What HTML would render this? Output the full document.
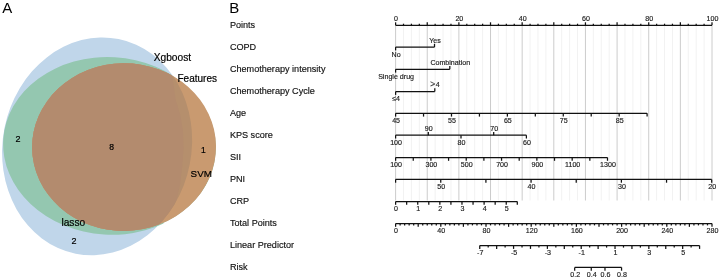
<!DOCTYPE html><html><head><meta charset="utf-8"><style>html,body{margin:0;padding:0;background:#fff;width:720px;height:280px;overflow:hidden}svg{display:block;will-change:transform}text{font-family:"Liberation Sans",sans-serif}</style></head><body>
<svg width="720" height="280" viewBox="0 0 720 280">
<defs><clipPath id="u"><ellipse cx="97.1" cy="146.35" rx="109.45" ry="94.4" transform="rotate(101.3 97.1 146.35)" /></clipPath></defs>
<ellipse cx="97.1" cy="146.35" rx="109.45" ry="94.4" transform="rotate(101.3 97.1 146.35)" fill="#C0D6EA"/>
<defs><clipPath id="gc"><polygon points="0,0 172,0 172,90 163,232 163,280 0,280"/><ellipse cx="124.05" cy="147.08" rx="91.95" ry="83.84" transform="rotate(179.3 124.05 147.08)" /></clipPath></defs>
<g clip-path="url(#gc)"><ellipse cx="109.57" cy="145.97" rx="106.5" ry="88.78" transform="rotate(3.5 109.57 145.97)" fill="#94C7B0"/></g>
<ellipse cx="124.05" cy="147.08" rx="91.95" ry="83.84" transform="rotate(179.3 124.05 147.08)" fill="#C99A70"/>
<defs><clipPath id="inr"><polygon points="0,0 168,0 170,70 172.5,78 175.8,100 180.3,115 183.0,131 183.6,148 182.4,165 180,185 176.5,200 150,280 0,280"/></clipPath></defs>
<g clip-path="url(#u)"><ellipse cx="124.05" cy="147.08" rx="91.95" ry="83.84" transform="rotate(179.3 124.05 147.08)" fill="#B58F6D"/><g clip-path="url(#inr)"><ellipse cx="124.05" cy="147.08" rx="91.95" ry="83.84" transform="rotate(179.3 124.05 147.08)" fill="#B38B6E"/></g></g>
<text x="2.3" y="12.8" font-size="15" fill="#000">A</text>
<text x="153.7" y="60.5" font-size="10.2" text-anchor="start" fill="#000" stroke="#000" stroke-width="0.2">Xgboost</text>
<text x="177.5" y="81.6" font-size="10.0" text-anchor="start" fill="#000" stroke="#000" stroke-width="0.2">Features</text>
<text x="190.6" y="177.0" font-size="9.8" text-anchor="start" fill="#000" stroke="#000" stroke-width="0.2">SVM</text>
<text x="61.4" y="225.7" font-size="10.2" text-anchor="start" fill="#000" stroke="#000" stroke-width="0.2">lasso</text>
<text x="17.9" y="141.6" font-size="9" text-anchor="middle" fill="#000" stroke="#000" stroke-width="0.2">2</text>
<text x="111.6" y="149.9" font-size="8.6" text-anchor="middle" fill="#000" stroke="#000" stroke-width="0.2">8</text>
<text x="203.3" y="152.6" font-size="8.5" text-anchor="middle" fill="#000" stroke="#000" stroke-width="0.2">1</text>
<text x="73.9" y="244.4" font-size="9" text-anchor="middle" fill="#000" stroke="#000" stroke-width="0.2">2</text>
<text x="229.3" y="12.8" font-size="15" fill="#000">B</text>
<text x="229.9" y="27.7" font-size="9.1" text-anchor="start" fill="#111" stroke="#111" stroke-width="0.15">Points</text>
<text x="229.9" y="49.75" font-size="9.1" text-anchor="start" fill="#111" stroke="#111" stroke-width="0.15">COPD</text>
<text x="229.9" y="71.8" font-size="9.1" text-anchor="start" fill="#111" stroke="#111" stroke-width="0.15">Chemotherapy intensity</text>
<text x="229.9" y="93.85000000000001" font-size="9.1" text-anchor="start" fill="#111" stroke="#111" stroke-width="0.15">Chemotherapy Cycle</text>
<text x="229.9" y="115.9" font-size="9.1" text-anchor="start" fill="#111" stroke="#111" stroke-width="0.15">Age</text>
<text x="229.9" y="137.95" font-size="9.1" text-anchor="start" fill="#111" stroke="#111" stroke-width="0.15">KPS score</text>
<text x="229.9" y="160.0" font-size="9.1" text-anchor="start" fill="#111" stroke="#111" stroke-width="0.15">SII</text>
<text x="229.9" y="182.04999999999998" font-size="9.1" text-anchor="start" fill="#111" stroke="#111" stroke-width="0.15">PNI</text>
<text x="229.9" y="204.1" font-size="9.1" text-anchor="start" fill="#111" stroke="#111" stroke-width="0.15">CRP</text>
<text x="229.9" y="226.15" font-size="9.1" text-anchor="start" fill="#111" stroke="#111" stroke-width="0.15">Total Points</text>
<text x="229.9" y="248.2" font-size="9.1" text-anchor="start" fill="#111" stroke="#111" stroke-width="0.15">Linear Predictor</text>
<text x="229.9" y="270.25" font-size="9.1" text-anchor="start" fill="#111" stroke="#111" stroke-width="0.15">Risk</text>
<line x1="395.60" y1="25.5" x2="395.60" y2="200.5" stroke="#cccccc" stroke-width="1"/>
<line x1="403.51" y1="25.5" x2="403.51" y2="200.5" stroke="#f2f2f2" stroke-width="1"/>
<line x1="411.42" y1="25.5" x2="411.42" y2="200.5" stroke="#f2f2f2" stroke-width="1"/>
<line x1="419.33" y1="25.5" x2="419.33" y2="200.5" stroke="#f2f2f2" stroke-width="1"/>
<line x1="427.24" y1="25.5" x2="427.24" y2="200.5" stroke="#cccccc" stroke-width="1"/>
<line x1="435.15" y1="25.5" x2="435.15" y2="200.5" stroke="#f2f2f2" stroke-width="1"/>
<line x1="443.06" y1="25.5" x2="443.06" y2="200.5" stroke="#f2f2f2" stroke-width="1"/>
<line x1="450.97" y1="25.5" x2="450.97" y2="200.5" stroke="#f2f2f2" stroke-width="1"/>
<line x1="458.88" y1="25.5" x2="458.88" y2="200.5" stroke="#cccccc" stroke-width="1"/>
<line x1="466.79" y1="25.5" x2="466.79" y2="200.5" stroke="#f2f2f2" stroke-width="1"/>
<line x1="474.70" y1="25.5" x2="474.70" y2="200.5" stroke="#f2f2f2" stroke-width="1"/>
<line x1="482.61" y1="25.5" x2="482.61" y2="200.5" stroke="#f2f2f2" stroke-width="1"/>
<line x1="490.52" y1="25.5" x2="490.52" y2="200.5" stroke="#cccccc" stroke-width="1"/>
<line x1="498.43" y1="25.5" x2="498.43" y2="200.5" stroke="#f2f2f2" stroke-width="1"/>
<line x1="506.34" y1="25.5" x2="506.34" y2="200.5" stroke="#f2f2f2" stroke-width="1"/>
<line x1="514.25" y1="25.5" x2="514.25" y2="200.5" stroke="#f2f2f2" stroke-width="1"/>
<line x1="522.16" y1="25.5" x2="522.16" y2="200.5" stroke="#cccccc" stroke-width="1"/>
<line x1="530.07" y1="25.5" x2="530.07" y2="200.5" stroke="#f2f2f2" stroke-width="1"/>
<line x1="537.98" y1="25.5" x2="537.98" y2="200.5" stroke="#f2f2f2" stroke-width="1"/>
<line x1="545.89" y1="25.5" x2="545.89" y2="200.5" stroke="#f2f2f2" stroke-width="1"/>
<line x1="553.80" y1="25.5" x2="553.80" y2="200.5" stroke="#cccccc" stroke-width="1"/>
<line x1="561.71" y1="25.5" x2="561.71" y2="200.5" stroke="#f2f2f2" stroke-width="1"/>
<line x1="569.62" y1="25.5" x2="569.62" y2="200.5" stroke="#f2f2f2" stroke-width="1"/>
<line x1="577.53" y1="25.5" x2="577.53" y2="200.5" stroke="#f2f2f2" stroke-width="1"/>
<line x1="585.44" y1="25.5" x2="585.44" y2="200.5" stroke="#cccccc" stroke-width="1"/>
<line x1="593.35" y1="25.5" x2="593.35" y2="200.5" stroke="#f2f2f2" stroke-width="1"/>
<line x1="601.26" y1="25.5" x2="601.26" y2="200.5" stroke="#f2f2f2" stroke-width="1"/>
<line x1="609.17" y1="25.5" x2="609.17" y2="200.5" stroke="#f2f2f2" stroke-width="1"/>
<line x1="617.08" y1="25.5" x2="617.08" y2="200.5" stroke="#cccccc" stroke-width="1"/>
<line x1="624.99" y1="25.5" x2="624.99" y2="200.5" stroke="#f2f2f2" stroke-width="1"/>
<line x1="632.90" y1="25.5" x2="632.90" y2="200.5" stroke="#f2f2f2" stroke-width="1"/>
<line x1="640.81" y1="25.5" x2="640.81" y2="200.5" stroke="#f2f2f2" stroke-width="1"/>
<line x1="648.72" y1="25.5" x2="648.72" y2="200.5" stroke="#cccccc" stroke-width="1"/>
<line x1="656.63" y1="25.5" x2="656.63" y2="200.5" stroke="#f2f2f2" stroke-width="1"/>
<line x1="664.54" y1="25.5" x2="664.54" y2="200.5" stroke="#f2f2f2" stroke-width="1"/>
<line x1="672.45" y1="25.5" x2="672.45" y2="200.5" stroke="#f2f2f2" stroke-width="1"/>
<line x1="680.36" y1="25.5" x2="680.36" y2="200.5" stroke="#cccccc" stroke-width="1"/>
<line x1="688.27" y1="25.5" x2="688.27" y2="200.5" stroke="#f2f2f2" stroke-width="1"/>
<line x1="696.18" y1="25.5" x2="696.18" y2="200.5" stroke="#f2f2f2" stroke-width="1"/>
<line x1="704.09" y1="25.5" x2="704.09" y2="200.5" stroke="#f2f2f2" stroke-width="1"/>
<line x1="712.00" y1="25.5" x2="712.00" y2="200.5" stroke="#cccccc" stroke-width="1"/>
<line x1="395.60" y1="25.3" x2="712.00" y2="25.3" stroke="#111" stroke-width="1.25"/>
<line x1="395.60" y1="25.3" x2="395.60" y2="22.3" stroke="#111" stroke-width="1.25"/>
<line x1="403.51" y1="25.3" x2="403.51" y2="23.7" stroke="#111" stroke-width="1.25"/>
<line x1="411.42" y1="25.3" x2="411.42" y2="23.7" stroke="#111" stroke-width="1.25"/>
<line x1="419.33" y1="25.3" x2="419.33" y2="23.7" stroke="#111" stroke-width="1.25"/>
<line x1="427.24" y1="25.3" x2="427.24" y2="22.3" stroke="#111" stroke-width="1.25"/>
<line x1="435.15" y1="25.3" x2="435.15" y2="23.7" stroke="#111" stroke-width="1.25"/>
<line x1="443.06" y1="25.3" x2="443.06" y2="23.7" stroke="#111" stroke-width="1.25"/>
<line x1="450.97" y1="25.3" x2="450.97" y2="23.7" stroke="#111" stroke-width="1.25"/>
<line x1="458.88" y1="25.3" x2="458.88" y2="22.3" stroke="#111" stroke-width="1.25"/>
<line x1="466.79" y1="25.3" x2="466.79" y2="23.7" stroke="#111" stroke-width="1.25"/>
<line x1="474.70" y1="25.3" x2="474.70" y2="23.7" stroke="#111" stroke-width="1.25"/>
<line x1="482.61" y1="25.3" x2="482.61" y2="23.7" stroke="#111" stroke-width="1.25"/>
<line x1="490.52" y1="25.3" x2="490.52" y2="22.3" stroke="#111" stroke-width="1.25"/>
<line x1="498.43" y1="25.3" x2="498.43" y2="23.7" stroke="#111" stroke-width="1.25"/>
<line x1="506.34" y1="25.3" x2="506.34" y2="23.7" stroke="#111" stroke-width="1.25"/>
<line x1="514.25" y1="25.3" x2="514.25" y2="23.7" stroke="#111" stroke-width="1.25"/>
<line x1="522.16" y1="25.3" x2="522.16" y2="22.3" stroke="#111" stroke-width="1.25"/>
<line x1="530.07" y1="25.3" x2="530.07" y2="23.7" stroke="#111" stroke-width="1.25"/>
<line x1="537.98" y1="25.3" x2="537.98" y2="23.7" stroke="#111" stroke-width="1.25"/>
<line x1="545.89" y1="25.3" x2="545.89" y2="23.7" stroke="#111" stroke-width="1.25"/>
<line x1="553.80" y1="25.3" x2="553.80" y2="22.3" stroke="#111" stroke-width="1.25"/>
<line x1="561.71" y1="25.3" x2="561.71" y2="23.7" stroke="#111" stroke-width="1.25"/>
<line x1="569.62" y1="25.3" x2="569.62" y2="23.7" stroke="#111" stroke-width="1.25"/>
<line x1="577.53" y1="25.3" x2="577.53" y2="23.7" stroke="#111" stroke-width="1.25"/>
<line x1="585.44" y1="25.3" x2="585.44" y2="22.3" stroke="#111" stroke-width="1.25"/>
<line x1="593.35" y1="25.3" x2="593.35" y2="23.7" stroke="#111" stroke-width="1.25"/>
<line x1="601.26" y1="25.3" x2="601.26" y2="23.7" stroke="#111" stroke-width="1.25"/>
<line x1="609.17" y1="25.3" x2="609.17" y2="23.7" stroke="#111" stroke-width="1.25"/>
<line x1="617.08" y1="25.3" x2="617.08" y2="22.3" stroke="#111" stroke-width="1.25"/>
<line x1="624.99" y1="25.3" x2="624.99" y2="23.7" stroke="#111" stroke-width="1.25"/>
<line x1="632.90" y1="25.3" x2="632.90" y2="23.7" stroke="#111" stroke-width="1.25"/>
<line x1="640.81" y1="25.3" x2="640.81" y2="23.7" stroke="#111" stroke-width="1.25"/>
<line x1="648.72" y1="25.3" x2="648.72" y2="22.3" stroke="#111" stroke-width="1.25"/>
<line x1="656.63" y1="25.3" x2="656.63" y2="23.7" stroke="#111" stroke-width="1.25"/>
<line x1="664.54" y1="25.3" x2="664.54" y2="23.7" stroke="#111" stroke-width="1.25"/>
<line x1="672.45" y1="25.3" x2="672.45" y2="23.7" stroke="#111" stroke-width="1.25"/>
<line x1="680.36" y1="25.3" x2="680.36" y2="22.3" stroke="#111" stroke-width="1.25"/>
<line x1="688.27" y1="25.3" x2="688.27" y2="23.7" stroke="#111" stroke-width="1.25"/>
<line x1="696.18" y1="25.3" x2="696.18" y2="23.7" stroke="#111" stroke-width="1.25"/>
<line x1="704.09" y1="25.3" x2="704.09" y2="23.7" stroke="#111" stroke-width="1.25"/>
<line x1="712.00" y1="25.3" x2="712.00" y2="22.3" stroke="#111" stroke-width="1.25"/>
<text x="396.10" y="20.700000000000003" font-size="7.1" text-anchor="middle" fill="#1a1a1a" stroke="#1a1a1a" stroke-width="0.15">0</text>
<text x="459.38" y="20.700000000000003" font-size="7.1" text-anchor="middle" fill="#1a1a1a" stroke="#1a1a1a" stroke-width="0.15">20</text>
<text x="522.66" y="20.700000000000003" font-size="7.1" text-anchor="middle" fill="#1a1a1a" stroke="#1a1a1a" stroke-width="0.15">40</text>
<text x="585.94" y="20.700000000000003" font-size="7.1" text-anchor="middle" fill="#1a1a1a" stroke="#1a1a1a" stroke-width="0.15">60</text>
<text x="649.22" y="20.700000000000003" font-size="7.1" text-anchor="middle" fill="#1a1a1a" stroke="#1a1a1a" stroke-width="0.15">80</text>
<text x="712.50" y="20.700000000000003" font-size="7.1" text-anchor="middle" fill="#1a1a1a" stroke="#1a1a1a" stroke-width="0.15">100</text>
<line x1="395.60" y1="47.1" x2="434.50" y2="47.1" stroke="#111" stroke-width="1.25"/>
<line x1="395.60" y1="47.1" x2="395.60" y2="50.4" stroke="#111" stroke-width="1.25"/>
<line x1="434.50" y1="47.1" x2="434.50" y2="43.800000000000004" stroke="#111" stroke-width="1.25"/>
<text x="396.10" y="56.8" font-size="7.1" text-anchor="middle" fill="#1a1a1a" stroke="#1a1a1a" stroke-width="0.15">No</text>
<text x="435.00" y="42.800000000000004" font-size="7.1" text-anchor="middle" fill="#1a1a1a" stroke="#1a1a1a" stroke-width="0.15">Yes</text>
<line x1="395.60" y1="69.3" x2="449.80" y2="69.3" stroke="#111" stroke-width="1.25"/>
<line x1="395.60" y1="69.3" x2="395.60" y2="72.6" stroke="#111" stroke-width="1.25"/>
<line x1="449.80" y1="69.3" x2="449.80" y2="66.0" stroke="#111" stroke-width="1.25"/>
<text x="396.10" y="79.0" font-size="7.1" text-anchor="middle" fill="#1a1a1a" stroke="#1a1a1a" stroke-width="0.15">Single drug</text>
<text x="450.30" y="65.0" font-size="7.1" text-anchor="middle" fill="#1a1a1a" stroke="#1a1a1a" stroke-width="0.15">Combination</text>
<line x1="395.60" y1="91.6" x2="434.80" y2="91.6" stroke="#111" stroke-width="1.25"/>
<line x1="395.60" y1="91.6" x2="395.60" y2="94.89999999999999" stroke="#111" stroke-width="1.25"/>
<line x1="434.80" y1="91.6" x2="434.80" y2="88.3" stroke="#111" stroke-width="1.25"/>
<text x="396.10" y="101.3" font-size="7.1" text-anchor="middle" fill="#1a1a1a" stroke="#1a1a1a" stroke-width="0.15">≤4</text>
<text x="435.30" y="87.3" font-size="7.1" text-anchor="middle" fill="#1a1a1a" stroke="#1a1a1a" stroke-width="0.15"><tspan font-size="8.6" fill="#555" dx="-0.3">&gt;</tspan><tspan dx="0.6">4</tspan></text>
<line x1="395.60" y1="113.3" x2="647.10" y2="113.3" stroke="#111" stroke-width="1.25"/>
<line x1="395.60" y1="113.3" x2="395.60" y2="116.6" stroke="#111" stroke-width="1.25"/>
<line x1="423.54" y1="113.3" x2="423.54" y2="116.6" stroke="#111" stroke-width="1.25"/>
<line x1="451.49" y1="113.3" x2="451.49" y2="116.6" stroke="#111" stroke-width="1.25"/>
<line x1="479.43" y1="113.3" x2="479.43" y2="116.6" stroke="#111" stroke-width="1.25"/>
<line x1="507.38" y1="113.3" x2="507.38" y2="116.6" stroke="#111" stroke-width="1.25"/>
<line x1="535.32" y1="113.3" x2="535.32" y2="116.6" stroke="#111" stroke-width="1.25"/>
<line x1="563.27" y1="113.3" x2="563.27" y2="116.6" stroke="#111" stroke-width="1.25"/>
<line x1="591.21" y1="113.3" x2="591.21" y2="116.6" stroke="#111" stroke-width="1.25"/>
<line x1="619.16" y1="113.3" x2="619.16" y2="116.6" stroke="#111" stroke-width="1.25"/>
<line x1="647.10" y1="113.3" x2="647.10" y2="116.6" stroke="#111" stroke-width="1.25"/>
<text x="396.10" y="123.0" font-size="7.1" text-anchor="middle" fill="#1a1a1a" stroke="#1a1a1a" stroke-width="0.15">45</text>
<text x="451.99" y="123.0" font-size="7.1" text-anchor="middle" fill="#1a1a1a" stroke="#1a1a1a" stroke-width="0.15">55</text>
<text x="507.88" y="123.0" font-size="7.1" text-anchor="middle" fill="#1a1a1a" stroke="#1a1a1a" stroke-width="0.15">65</text>
<text x="563.77" y="123.0" font-size="7.1" text-anchor="middle" fill="#1a1a1a" stroke="#1a1a1a" stroke-width="0.15">75</text>
<text x="619.66" y="123.0" font-size="7.1" text-anchor="middle" fill="#1a1a1a" stroke="#1a1a1a" stroke-width="0.15">85</text>
<line x1="395.60" y1="135.2" x2="526.40" y2="135.2" stroke="#111" stroke-width="1.25"/>
<line x1="395.60" y1="135.2" x2="395.60" y2="138.5" stroke="#111" stroke-width="1.25"/>
<text x="396.10" y="144.89999999999998" font-size="7.1" text-anchor="middle" fill="#1a1a1a" stroke="#1a1a1a" stroke-width="0.15">100</text>
<line x1="428.30" y1="135.2" x2="428.30" y2="131.89999999999998" stroke="#111" stroke-width="1.25"/>
<text x="428.80" y="130.89999999999998" font-size="7.1" text-anchor="middle" fill="#1a1a1a" stroke="#1a1a1a" stroke-width="0.15">90</text>
<line x1="461.00" y1="135.2" x2="461.00" y2="138.5" stroke="#111" stroke-width="1.25"/>
<text x="461.50" y="144.89999999999998" font-size="7.1" text-anchor="middle" fill="#1a1a1a" stroke="#1a1a1a" stroke-width="0.15">80</text>
<line x1="493.70" y1="135.2" x2="493.70" y2="131.89999999999998" stroke="#111" stroke-width="1.25"/>
<text x="494.20" y="130.89999999999998" font-size="7.1" text-anchor="middle" fill="#1a1a1a" stroke="#1a1a1a" stroke-width="0.15">70</text>
<line x1="526.40" y1="135.2" x2="526.40" y2="138.5" stroke="#111" stroke-width="1.25"/>
<text x="526.90" y="144.89999999999998" font-size="7.1" text-anchor="middle" fill="#1a1a1a" stroke="#1a1a1a" stroke-width="0.15">60</text>
<line x1="395.60" y1="157.5" x2="607.50" y2="157.5" stroke="#111" stroke-width="1.25"/>
<line x1="395.60" y1="157.5" x2="395.60" y2="160.8" stroke="#111" stroke-width="1.25"/>
<line x1="413.26" y1="157.5" x2="413.26" y2="160.8" stroke="#111" stroke-width="1.25"/>
<line x1="430.92" y1="157.5" x2="430.92" y2="160.8" stroke="#111" stroke-width="1.25"/>
<line x1="448.58" y1="157.5" x2="448.58" y2="160.8" stroke="#111" stroke-width="1.25"/>
<line x1="466.23" y1="157.5" x2="466.23" y2="160.8" stroke="#111" stroke-width="1.25"/>
<line x1="483.89" y1="157.5" x2="483.89" y2="160.8" stroke="#111" stroke-width="1.25"/>
<line x1="501.55" y1="157.5" x2="501.55" y2="160.8" stroke="#111" stroke-width="1.25"/>
<line x1="519.21" y1="157.5" x2="519.21" y2="160.8" stroke="#111" stroke-width="1.25"/>
<line x1="536.87" y1="157.5" x2="536.87" y2="160.8" stroke="#111" stroke-width="1.25"/>
<line x1="554.52" y1="157.5" x2="554.52" y2="160.8" stroke="#111" stroke-width="1.25"/>
<line x1="572.18" y1="157.5" x2="572.18" y2="160.8" stroke="#111" stroke-width="1.25"/>
<line x1="589.84" y1="157.5" x2="589.84" y2="160.8" stroke="#111" stroke-width="1.25"/>
<line x1="607.50" y1="157.5" x2="607.50" y2="160.8" stroke="#111" stroke-width="1.25"/>
<text x="396.10" y="167.2" font-size="7.1" text-anchor="middle" fill="#1a1a1a" stroke="#1a1a1a" stroke-width="0.15">100</text>
<text x="431.42" y="167.2" font-size="7.1" text-anchor="middle" fill="#1a1a1a" stroke="#1a1a1a" stroke-width="0.15">300</text>
<text x="466.73" y="167.2" font-size="7.1" text-anchor="middle" fill="#1a1a1a" stroke="#1a1a1a" stroke-width="0.15">500</text>
<text x="502.05" y="167.2" font-size="7.1" text-anchor="middle" fill="#1a1a1a" stroke="#1a1a1a" stroke-width="0.15">700</text>
<text x="537.37" y="167.2" font-size="7.1" text-anchor="middle" fill="#1a1a1a" stroke="#1a1a1a" stroke-width="0.15">900</text>
<text x="572.68" y="167.2" font-size="7.1" text-anchor="middle" fill="#1a1a1a" stroke="#1a1a1a" stroke-width="0.15">1100</text>
<text x="608.00" y="167.2" font-size="7.1" text-anchor="middle" fill="#1a1a1a" stroke="#1a1a1a" stroke-width="0.15">1300</text>
<line x1="395.60" y1="179.4" x2="711.70" y2="179.4" stroke="#111" stroke-width="1.25"/>
<line x1="395.60" y1="179.4" x2="395.60" y2="182.70000000000002" stroke="#111" stroke-width="1.25"/>
<line x1="440.76" y1="179.4" x2="440.76" y2="182.70000000000002" stroke="#111" stroke-width="1.25"/>
<line x1="485.91" y1="179.4" x2="485.91" y2="182.70000000000002" stroke="#111" stroke-width="1.25"/>
<line x1="531.07" y1="179.4" x2="531.07" y2="182.70000000000002" stroke="#111" stroke-width="1.25"/>
<line x1="576.23" y1="179.4" x2="576.23" y2="182.70000000000002" stroke="#111" stroke-width="1.25"/>
<line x1="621.39" y1="179.4" x2="621.39" y2="182.70000000000002" stroke="#111" stroke-width="1.25"/>
<line x1="666.54" y1="179.4" x2="666.54" y2="182.70000000000002" stroke="#111" stroke-width="1.25"/>
<line x1="711.70" y1="179.4" x2="711.70" y2="182.70000000000002" stroke="#111" stroke-width="1.25"/>
<text x="441.26" y="189.1" font-size="7.1" text-anchor="middle" fill="#1a1a1a" stroke="#1a1a1a" stroke-width="0.15">50</text>
<text x="531.57" y="189.1" font-size="7.1" text-anchor="middle" fill="#1a1a1a" stroke="#1a1a1a" stroke-width="0.15">40</text>
<text x="621.89" y="189.1" font-size="7.1" text-anchor="middle" fill="#1a1a1a" stroke="#1a1a1a" stroke-width="0.15">30</text>
<text x="712.20" y="189.1" font-size="7.1" text-anchor="middle" fill="#1a1a1a" stroke="#1a1a1a" stroke-width="0.15">20</text>
<line x1="395.60" y1="201.5" x2="517.30" y2="201.5" stroke="#111" stroke-width="1.25"/>
<line x1="395.60" y1="201.5" x2="395.60" y2="204.8" stroke="#111" stroke-width="1.25"/>
<line x1="406.66" y1="201.5" x2="406.66" y2="204.8" stroke="#111" stroke-width="1.25"/>
<line x1="417.73" y1="201.5" x2="417.73" y2="204.8" stroke="#111" stroke-width="1.25"/>
<line x1="428.79" y1="201.5" x2="428.79" y2="204.8" stroke="#111" stroke-width="1.25"/>
<line x1="439.85" y1="201.5" x2="439.85" y2="204.8" stroke="#111" stroke-width="1.25"/>
<line x1="450.92" y1="201.5" x2="450.92" y2="204.8" stroke="#111" stroke-width="1.25"/>
<line x1="461.98" y1="201.5" x2="461.98" y2="204.8" stroke="#111" stroke-width="1.25"/>
<line x1="473.05" y1="201.5" x2="473.05" y2="204.8" stroke="#111" stroke-width="1.25"/>
<line x1="484.11" y1="201.5" x2="484.11" y2="204.8" stroke="#111" stroke-width="1.25"/>
<line x1="495.17" y1="201.5" x2="495.17" y2="204.8" stroke="#111" stroke-width="1.25"/>
<line x1="506.24" y1="201.5" x2="506.24" y2="204.8" stroke="#111" stroke-width="1.25"/>
<line x1="517.30" y1="201.5" x2="517.30" y2="204.8" stroke="#111" stroke-width="1.25"/>
<text x="396.10" y="211.2" font-size="7.1" text-anchor="middle" fill="#1a1a1a" stroke="#1a1a1a" stroke-width="0.15">0</text>
<text x="418.23" y="211.2" font-size="7.1" text-anchor="middle" fill="#1a1a1a" stroke="#1a1a1a" stroke-width="0.15">1</text>
<text x="440.35" y="211.2" font-size="7.1" text-anchor="middle" fill="#1a1a1a" stroke="#1a1a1a" stroke-width="0.15">2</text>
<text x="462.48" y="211.2" font-size="7.1" text-anchor="middle" fill="#1a1a1a" stroke="#1a1a1a" stroke-width="0.15">3</text>
<text x="484.61" y="211.2" font-size="7.1" text-anchor="middle" fill="#1a1a1a" stroke="#1a1a1a" stroke-width="0.15">4</text>
<text x="506.74" y="211.2" font-size="7.1" text-anchor="middle" fill="#1a1a1a" stroke="#1a1a1a" stroke-width="0.15">5</text>
<line x1="395.60" y1="223.5" x2="712.00" y2="223.5" stroke="#111" stroke-width="1.25"/>
<line x1="395.60" y1="223.5" x2="395.60" y2="226.8" stroke="#111" stroke-width="1.25"/>
<line x1="400.12" y1="223.5" x2="400.12" y2="225.4" stroke="#111" stroke-width="1.25"/>
<line x1="404.64" y1="223.5" x2="404.64" y2="225.4" stroke="#111" stroke-width="1.25"/>
<line x1="409.16" y1="223.5" x2="409.16" y2="225.4" stroke="#111" stroke-width="1.25"/>
<line x1="413.68" y1="223.5" x2="413.68" y2="225.4" stroke="#111" stroke-width="1.25"/>
<line x1="418.20" y1="223.5" x2="418.20" y2="226.8" stroke="#111" stroke-width="1.25"/>
<line x1="422.72" y1="223.5" x2="422.72" y2="225.4" stroke="#111" stroke-width="1.25"/>
<line x1="427.24" y1="223.5" x2="427.24" y2="225.4" stroke="#111" stroke-width="1.25"/>
<line x1="431.76" y1="223.5" x2="431.76" y2="225.4" stroke="#111" stroke-width="1.25"/>
<line x1="436.28" y1="223.5" x2="436.28" y2="225.4" stroke="#111" stroke-width="1.25"/>
<line x1="440.80" y1="223.5" x2="440.80" y2="226.8" stroke="#111" stroke-width="1.25"/>
<line x1="445.32" y1="223.5" x2="445.32" y2="225.4" stroke="#111" stroke-width="1.25"/>
<line x1="449.84" y1="223.5" x2="449.84" y2="225.4" stroke="#111" stroke-width="1.25"/>
<line x1="454.36" y1="223.5" x2="454.36" y2="225.4" stroke="#111" stroke-width="1.25"/>
<line x1="458.88" y1="223.5" x2="458.88" y2="225.4" stroke="#111" stroke-width="1.25"/>
<line x1="463.40" y1="223.5" x2="463.40" y2="226.8" stroke="#111" stroke-width="1.25"/>
<line x1="467.92" y1="223.5" x2="467.92" y2="225.4" stroke="#111" stroke-width="1.25"/>
<line x1="472.44" y1="223.5" x2="472.44" y2="225.4" stroke="#111" stroke-width="1.25"/>
<line x1="476.96" y1="223.5" x2="476.96" y2="225.4" stroke="#111" stroke-width="1.25"/>
<line x1="481.48" y1="223.5" x2="481.48" y2="225.4" stroke="#111" stroke-width="1.25"/>
<line x1="486.00" y1="223.5" x2="486.00" y2="226.8" stroke="#111" stroke-width="1.25"/>
<line x1="490.52" y1="223.5" x2="490.52" y2="225.4" stroke="#111" stroke-width="1.25"/>
<line x1="495.04" y1="223.5" x2="495.04" y2="225.4" stroke="#111" stroke-width="1.25"/>
<line x1="499.56" y1="223.5" x2="499.56" y2="225.4" stroke="#111" stroke-width="1.25"/>
<line x1="504.08" y1="223.5" x2="504.08" y2="225.4" stroke="#111" stroke-width="1.25"/>
<line x1="508.60" y1="223.5" x2="508.60" y2="226.8" stroke="#111" stroke-width="1.25"/>
<line x1="513.12" y1="223.5" x2="513.12" y2="225.4" stroke="#111" stroke-width="1.25"/>
<line x1="517.64" y1="223.5" x2="517.64" y2="225.4" stroke="#111" stroke-width="1.25"/>
<line x1="522.16" y1="223.5" x2="522.16" y2="225.4" stroke="#111" stroke-width="1.25"/>
<line x1="526.68" y1="223.5" x2="526.68" y2="225.4" stroke="#111" stroke-width="1.25"/>
<line x1="531.20" y1="223.5" x2="531.20" y2="226.8" stroke="#111" stroke-width="1.25"/>
<line x1="535.72" y1="223.5" x2="535.72" y2="225.4" stroke="#111" stroke-width="1.25"/>
<line x1="540.24" y1="223.5" x2="540.24" y2="225.4" stroke="#111" stroke-width="1.25"/>
<line x1="544.76" y1="223.5" x2="544.76" y2="225.4" stroke="#111" stroke-width="1.25"/>
<line x1="549.28" y1="223.5" x2="549.28" y2="225.4" stroke="#111" stroke-width="1.25"/>
<line x1="553.80" y1="223.5" x2="553.80" y2="226.8" stroke="#111" stroke-width="1.25"/>
<line x1="558.32" y1="223.5" x2="558.32" y2="225.4" stroke="#111" stroke-width="1.25"/>
<line x1="562.84" y1="223.5" x2="562.84" y2="225.4" stroke="#111" stroke-width="1.25"/>
<line x1="567.36" y1="223.5" x2="567.36" y2="225.4" stroke="#111" stroke-width="1.25"/>
<line x1="571.88" y1="223.5" x2="571.88" y2="225.4" stroke="#111" stroke-width="1.25"/>
<line x1="576.40" y1="223.5" x2="576.40" y2="226.8" stroke="#111" stroke-width="1.25"/>
<line x1="580.92" y1="223.5" x2="580.92" y2="225.4" stroke="#111" stroke-width="1.25"/>
<line x1="585.44" y1="223.5" x2="585.44" y2="225.4" stroke="#111" stroke-width="1.25"/>
<line x1="589.96" y1="223.5" x2="589.96" y2="225.4" stroke="#111" stroke-width="1.25"/>
<line x1="594.48" y1="223.5" x2="594.48" y2="225.4" stroke="#111" stroke-width="1.25"/>
<line x1="599.00" y1="223.5" x2="599.00" y2="226.8" stroke="#111" stroke-width="1.25"/>
<line x1="603.52" y1="223.5" x2="603.52" y2="225.4" stroke="#111" stroke-width="1.25"/>
<line x1="608.04" y1="223.5" x2="608.04" y2="225.4" stroke="#111" stroke-width="1.25"/>
<line x1="612.56" y1="223.5" x2="612.56" y2="225.4" stroke="#111" stroke-width="1.25"/>
<line x1="617.08" y1="223.5" x2="617.08" y2="225.4" stroke="#111" stroke-width="1.25"/>
<line x1="621.60" y1="223.5" x2="621.60" y2="226.8" stroke="#111" stroke-width="1.25"/>
<line x1="626.12" y1="223.5" x2="626.12" y2="225.4" stroke="#111" stroke-width="1.25"/>
<line x1="630.64" y1="223.5" x2="630.64" y2="225.4" stroke="#111" stroke-width="1.25"/>
<line x1="635.16" y1="223.5" x2="635.16" y2="225.4" stroke="#111" stroke-width="1.25"/>
<line x1="639.68" y1="223.5" x2="639.68" y2="225.4" stroke="#111" stroke-width="1.25"/>
<line x1="644.20" y1="223.5" x2="644.20" y2="226.8" stroke="#111" stroke-width="1.25"/>
<line x1="648.72" y1="223.5" x2="648.72" y2="225.4" stroke="#111" stroke-width="1.25"/>
<line x1="653.24" y1="223.5" x2="653.24" y2="225.4" stroke="#111" stroke-width="1.25"/>
<line x1="657.76" y1="223.5" x2="657.76" y2="225.4" stroke="#111" stroke-width="1.25"/>
<line x1="662.28" y1="223.5" x2="662.28" y2="225.4" stroke="#111" stroke-width="1.25"/>
<line x1="666.80" y1="223.5" x2="666.80" y2="226.8" stroke="#111" stroke-width="1.25"/>
<line x1="671.32" y1="223.5" x2="671.32" y2="225.4" stroke="#111" stroke-width="1.25"/>
<line x1="675.84" y1="223.5" x2="675.84" y2="225.4" stroke="#111" stroke-width="1.25"/>
<line x1="680.36" y1="223.5" x2="680.36" y2="225.4" stroke="#111" stroke-width="1.25"/>
<line x1="684.88" y1="223.5" x2="684.88" y2="225.4" stroke="#111" stroke-width="1.25"/>
<line x1="689.40" y1="223.5" x2="689.40" y2="226.8" stroke="#111" stroke-width="1.25"/>
<line x1="693.92" y1="223.5" x2="693.92" y2="225.4" stroke="#111" stroke-width="1.25"/>
<line x1="698.44" y1="223.5" x2="698.44" y2="225.4" stroke="#111" stroke-width="1.25"/>
<line x1="702.96" y1="223.5" x2="702.96" y2="225.4" stroke="#111" stroke-width="1.25"/>
<line x1="707.48" y1="223.5" x2="707.48" y2="225.4" stroke="#111" stroke-width="1.25"/>
<line x1="712.00" y1="223.5" x2="712.00" y2="226.8" stroke="#111" stroke-width="1.25"/>
<text x="396.10" y="233.2" font-size="7.1" text-anchor="middle" fill="#1a1a1a" stroke="#1a1a1a" stroke-width="0.15">0</text>
<text x="441.30" y="233.2" font-size="7.1" text-anchor="middle" fill="#1a1a1a" stroke="#1a1a1a" stroke-width="0.15">40</text>
<text x="486.50" y="233.2" font-size="7.1" text-anchor="middle" fill="#1a1a1a" stroke="#1a1a1a" stroke-width="0.15">80</text>
<text x="531.70" y="233.2" font-size="7.1" text-anchor="middle" fill="#1a1a1a" stroke="#1a1a1a" stroke-width="0.15">120</text>
<text x="576.90" y="233.2" font-size="7.1" text-anchor="middle" fill="#1a1a1a" stroke="#1a1a1a" stroke-width="0.15">160</text>
<text x="622.10" y="233.2" font-size="7.1" text-anchor="middle" fill="#1a1a1a" stroke="#1a1a1a" stroke-width="0.15">200</text>
<text x="667.30" y="233.2" font-size="7.1" text-anchor="middle" fill="#1a1a1a" stroke="#1a1a1a" stroke-width="0.15">240</text>
<text x="712.50" y="233.2" font-size="7.1" text-anchor="middle" fill="#1a1a1a" stroke="#1a1a1a" stroke-width="0.15">280</text>
<line x1="479.75" y1="245.6" x2="699.58" y2="245.6" stroke="#111" stroke-width="1.25"/>
<line x1="479.75" y1="245.6" x2="479.75" y2="248.9" stroke="#111" stroke-width="1.25"/>
<line x1="488.20" y1="245.6" x2="488.20" y2="247.6" stroke="#111" stroke-width="1.25"/>
<line x1="496.66" y1="245.6" x2="496.66" y2="248.9" stroke="#111" stroke-width="1.25"/>
<line x1="505.12" y1="245.6" x2="505.12" y2="247.6" stroke="#111" stroke-width="1.25"/>
<line x1="513.57" y1="245.6" x2="513.57" y2="248.9" stroke="#111" stroke-width="1.25"/>
<line x1="522.02" y1="245.6" x2="522.02" y2="247.6" stroke="#111" stroke-width="1.25"/>
<line x1="530.48" y1="245.6" x2="530.48" y2="248.9" stroke="#111" stroke-width="1.25"/>
<line x1="538.93" y1="245.6" x2="538.93" y2="247.6" stroke="#111" stroke-width="1.25"/>
<line x1="547.39" y1="245.6" x2="547.39" y2="248.9" stroke="#111" stroke-width="1.25"/>
<line x1="555.85" y1="245.6" x2="555.85" y2="247.6" stroke="#111" stroke-width="1.25"/>
<line x1="564.30" y1="245.6" x2="564.30" y2="248.9" stroke="#111" stroke-width="1.25"/>
<line x1="572.75" y1="245.6" x2="572.75" y2="247.6" stroke="#111" stroke-width="1.25"/>
<line x1="581.21" y1="245.6" x2="581.21" y2="248.9" stroke="#111" stroke-width="1.25"/>
<line x1="589.66" y1="245.6" x2="589.66" y2="247.6" stroke="#111" stroke-width="1.25"/>
<line x1="598.12" y1="245.6" x2="598.12" y2="248.9" stroke="#111" stroke-width="1.25"/>
<line x1="606.58" y1="245.6" x2="606.58" y2="247.6" stroke="#111" stroke-width="1.25"/>
<line x1="615.03" y1="245.6" x2="615.03" y2="248.9" stroke="#111" stroke-width="1.25"/>
<line x1="623.49" y1="245.6" x2="623.49" y2="247.6" stroke="#111" stroke-width="1.25"/>
<line x1="631.94" y1="245.6" x2="631.94" y2="248.9" stroke="#111" stroke-width="1.25"/>
<line x1="640.39" y1="245.6" x2="640.39" y2="247.6" stroke="#111" stroke-width="1.25"/>
<line x1="648.85" y1="245.6" x2="648.85" y2="248.9" stroke="#111" stroke-width="1.25"/>
<line x1="657.31" y1="245.6" x2="657.31" y2="247.6" stroke="#111" stroke-width="1.25"/>
<line x1="665.76" y1="245.6" x2="665.76" y2="248.9" stroke="#111" stroke-width="1.25"/>
<line x1="674.22" y1="245.6" x2="674.22" y2="247.6" stroke="#111" stroke-width="1.25"/>
<line x1="682.67" y1="245.6" x2="682.67" y2="248.9" stroke="#111" stroke-width="1.25"/>
<line x1="691.12" y1="245.6" x2="691.12" y2="247.6" stroke="#111" stroke-width="1.25"/>
<line x1="699.58" y1="245.6" x2="699.58" y2="248.9" stroke="#111" stroke-width="1.25"/>
<text x="480.25" y="255.29999999999998" font-size="7.1" text-anchor="middle" fill="#1a1a1a" stroke="#1a1a1a" stroke-width="0.15">-7</text>
<text x="514.07" y="255.29999999999998" font-size="7.1" text-anchor="middle" fill="#1a1a1a" stroke="#1a1a1a" stroke-width="0.15">-5</text>
<text x="547.89" y="255.29999999999998" font-size="7.1" text-anchor="middle" fill="#1a1a1a" stroke="#1a1a1a" stroke-width="0.15">-3</text>
<text x="581.71" y="255.29999999999998" font-size="7.1" text-anchor="middle" fill="#1a1a1a" stroke="#1a1a1a" stroke-width="0.15">-1</text>
<text x="615.53" y="255.29999999999998" font-size="7.1" text-anchor="middle" fill="#1a1a1a" stroke="#1a1a1a" stroke-width="0.15">1</text>
<text x="649.35" y="255.29999999999998" font-size="7.1" text-anchor="middle" fill="#1a1a1a" stroke="#1a1a1a" stroke-width="0.15">3</text>
<text x="683.17" y="255.29999999999998" font-size="7.1" text-anchor="middle" fill="#1a1a1a" stroke="#1a1a1a" stroke-width="0.15">5</text>
<line x1="574.68" y1="267.4" x2="621.56" y2="267.4" stroke="#111" stroke-width="1.25"/>
<line x1="574.68" y1="267.4" x2="574.68" y2="270.7" stroke="#111" stroke-width="1.25"/>
<text x="575.18" y="277.09999999999997" font-size="7.1" text-anchor="middle" fill="#1a1a1a" stroke="#1a1a1a" stroke-width="0.15">0.2</text>
<line x1="591.26" y1="267.4" x2="591.26" y2="270.7" stroke="#111" stroke-width="1.25"/>
<text x="591.76" y="277.09999999999997" font-size="7.1" text-anchor="middle" fill="#1a1a1a" stroke="#1a1a1a" stroke-width="0.15">0.4</text>
<line x1="604.98" y1="267.4" x2="604.98" y2="270.7" stroke="#111" stroke-width="1.25"/>
<text x="605.48" y="277.09999999999997" font-size="7.1" text-anchor="middle" fill="#1a1a1a" stroke="#1a1a1a" stroke-width="0.15">0.6</text>
<line x1="621.56" y1="267.4" x2="621.56" y2="270.7" stroke="#111" stroke-width="1.25"/>
<text x="622.06" y="277.09999999999997" font-size="7.1" text-anchor="middle" fill="#1a1a1a" stroke="#1a1a1a" stroke-width="0.15">0.8</text>
</svg></body></html>
